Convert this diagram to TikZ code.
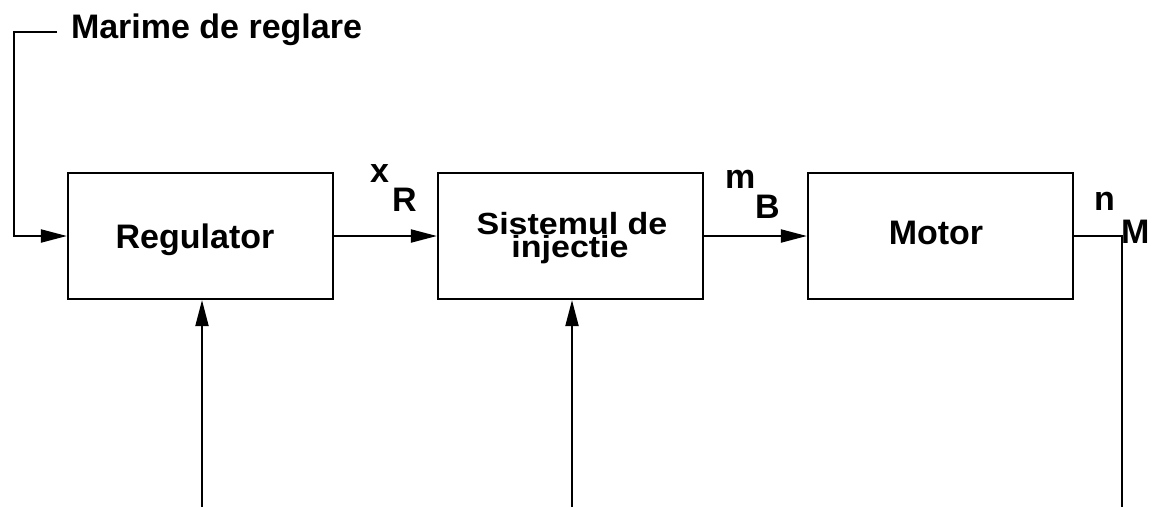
\documentclass[tikz,border=0pt]{standalone}
\usepackage{fontspec}
\setmainfont{Liberation Sans}
\usetikzlibrary{arrows.meta}
\begin{document}
\begin{tikzpicture}[x=1pt,y=-1pt,
  line width=2pt,
  blk/.style={draw, line width=2.2pt, minimum width=265pt, minimum height=126pt, inner sep=0pt},
  txt/.style={inner sep=0pt, anchor=base, font=\bfseries\fontsize{34}{40}\selectfont},
  lbl/.style={inner sep=0pt, anchor=base west, font=\bfseries\fontsize{34}{40}\selectfont},
  arr/.style={-{Triangle[length=26pt,width=13pt]}}
]
\useasboundingbox (0,0) rectangle (1152,507);
\node[blk] (reg) at (200.5,236) {};
\node[blk] (inj) at (570.5,236) {};
\node[blk] (mot) at (940.5,236) {};
\node[txt] (regt) at (195,248) {Regulator};
\node[txt] (injt1) at (572,234) {\scalebox{1}[0.9]{Sistemul de}};
\node[txt] (injt2) at (570,257) {\scalebox{1}[0.9]{injectie}};
\node[txt] (mott) at (936,244) {Motor};

\coordinate (tl) at (14,32);
\coordinate (tr) at (57,32);
\node[lbl] (mr) at (70,38) {Marime de reglare};
\draw[arr] (tr) -- (tl) |- (reg.west);

\draw[arr] (reg.east) -- (inj.west);
\draw[arr] (inj.east) -- (mot.west);

\node[lbl] (xx) at (369,182) {x};
\node[lbl] (xR) at (391,211) {R};
\node[lbl] (mm) at (724,188) {m};
\node[lbl] (mB) at (754,218) {B};
\node[lbl] (nn) at (1093,210) {n};
\node[lbl] (nM) at (1120,243) {M};

\coordinate (ob) at (1122,507);
\draw (mot.east) -| (ob);

\coordinate (rb) at (202,507);
\coordinate (ib) at (572,507);
\draw[arr] (rb) -- (rb |- reg.south);
\draw[arr] (ib) -- (ib |- inj.south);
\end{tikzpicture}
\end{document}
